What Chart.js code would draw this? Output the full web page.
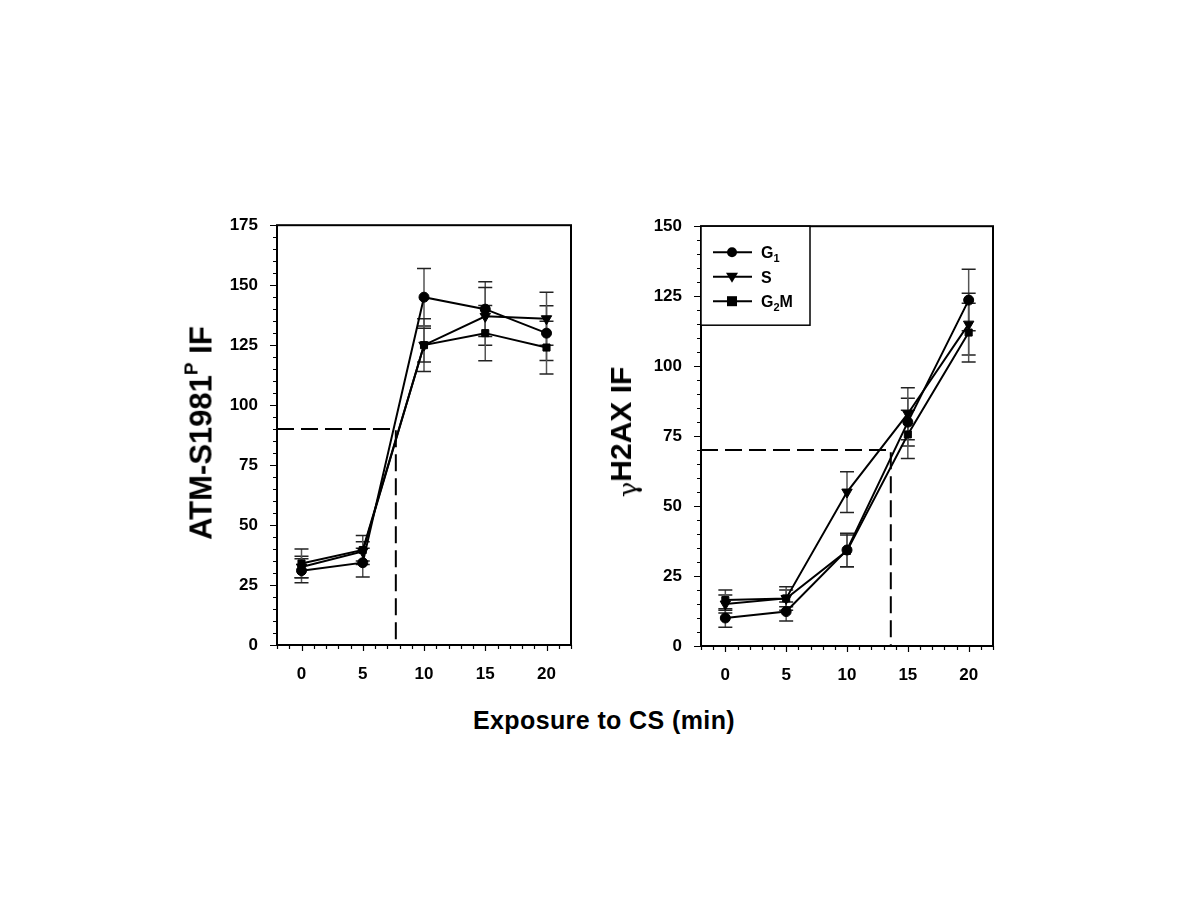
<!DOCTYPE html>
<html>
<head>
<meta charset="utf-8">
<script src="https://cdn.jsdelivr.net/npm/chart.js@4.4.1/dist/chart.umd.min.js"></script>
<style>
  body { margin: 0; background: #fff; width: 1200px; height: 900px; position: relative; overflow: hidden;
         font-family: "Liberation Sans", Arial, sans-serif; color: #000; }
  canvas { position: absolute; }
  .ttl { position: absolute; font-weight: bold; white-space: nowrap; line-height: 1; }
  .rot { transform: translate(-50%, -50%) rotate(-90deg); }
</style>
</head>
<body>
<canvas id="atm" width="440" height="500" style="left:150px; top:196px;"></canvas>
<canvas id="h2ax" width="430" height="500" style="left:590px; top:197px;"></canvas>

<div class="ttl rot" style="left:199px; top:433px; font-size:31px;">ATM-S1981<sup style="font-size:19px; vertical-align:14px;">P</sup> IF</div>
<div class="ttl rot" style="left:621px; top:432px; font-size:30px;"><span style="font-family:'DejaVu Serif', serif; font-weight:normal; font-size:26px; position:relative; top:6px;">γ</span>H2AX IF</div>
<div class="ttl" style="left:604px; top:720px; font-size:25px; letter-spacing:0.4px; transform:translate(-50%, -50%);">Exposure to CS (min)</div>

<script>
// x positions (minutes of CS exposure)
const timesMin = [0, 5, 10, 15, 20];
const xTicks = [0, 5, 10, 15, 20];

// left panel: ATM-S1981P IF
const atmTicks = [0, 25, 50, 75, 100, 125, 150, 175];
const atmG1 = [31, 34.3, 145, 140, 130];
const atmS = [32.5, 39, 125, 137, 136];
const atmG2M = [34, 39.6, 125, 130, 124];
const atmG1Err = [5, 6, 12, 11.4, 11.4];
const atmSErr = [4.5, 4, 11, 12, 11];
const atmG2MErr = [6, 6, 7, 11.5, 11];
const atmCutX = [-2, 7.7, 7.7];
const atmCutY = [90, 90, 0];

// right panel: gammaH2AX IF
const h2axTicks = [0, 25, 50, 75, 100, 125, 150];
const h2axG1 = [10, 12.3, 34.3, 80, 123.6];
const h2axS = [15, 17, 55, 83, 115];
const h2axG2M = [16.4, 17, 34, 75.6, 112];
const h2axG1Err = [3.3, 3.4, 6, 8.5, 11];
const h2axSErr = [3.2, 3, 7.3, 9.3, 11];
const h2axG2MErr = [3.6, 4.2, 5.7, 8.6, 10.5];
const h2axCutX = [-2, 13.6, 13.6];
const h2axCutY = [70, 70, 0];

const FONT = '"Liberation Sans", Arial, sans-serif';
const pts = (xs, ys) => xs.map((x, i) => ({ x, y: ys[i] }));

function series(label, ys, err, style) {
  return {
    label, data: pts(timesMin, ys), err,
    borderColor: '#000', borderWidth: 2, backgroundColor: '#000',
    pointStyle: style, pointRadius: style === 'triangle' ? 6 : 5,
    pointRotation: style === 'triangle' ? 180 : 0,
    pointBackgroundColor: '#000', pointBorderColor: '#000', pointBorderWidth: 1,
    tension: 0,
  };
}

function cutLine(xs, ys) {
  return { label: 'cut', data: pts(xs, ys), borderColor: '#000', borderWidth: 2,
           borderDash: [17, 7], pointRadius: 0, fill: false, tension: 0 };
}

// error bars under the markers
const errorBars = {
  id: 'errorBars',
  beforeDatasetsDraw(chart) {
    const { ctx } = chart, y = chart.scales.y;
    chart.data.datasets.forEach((ds, i) => {
      if (!ds.err) return;
      chart.getDatasetMeta(i).data.forEach((p, j) => {
        const v = ds.data[j].y, e = ds.err[j];
        const top = y.getPixelForValue(v + e), bot = y.getPixelForValue(v - e);
        ctx.save();
        ctx.strokeStyle = '#555';
        ctx.lineWidth = 1.5;
        ctx.beginPath();
        ctx.moveTo(p.x, top); ctx.lineTo(p.x, bot);
        ctx.stroke();
        ctx.strokeStyle = '#222';
        ctx.beginPath();
        ctx.moveTo(p.x - 7, top); ctx.lineTo(p.x + 7, top);
        ctx.moveTo(p.x - 7, bot); ctx.lineTo(p.x + 7, bot);
        ctx.stroke();
        ctx.restore();
      });
    });
  },
};

// frame + outward major/minor ticks
const frame = {
  id: 'frame',
  afterDraw(chart) {
    const { ctx, chartArea: a } = chart, xs = chart.scales.x, ys = chart.scales.y;
    ctx.save();
    ctx.strokeStyle = '#000';
    ctx.lineWidth = 2;
    ctx.strokeRect(a.left, a.top, a.right - a.left, a.bottom - a.top);
    ctx.lineWidth = 1.2;
    ctx.beginPath();
    for (let v = ys.min; v <= ys.max; v += 5) {
      const py = Math.round(ys.getPixelForValue(v)) + 0.5;
      const len = v % 25 === 0 ? 7 : 4;
      ctx.moveTo(a.left, py); ctx.lineTo(a.left - len, py);
    }
    for (let v = xs.min; v <= xs.max; v += 1) {
      const px = Math.round(xs.getPixelForValue(v)) + 0.5;
      const len = v % 5 === 0 ? 6 : 4;
      ctx.moveTo(px, a.bottom); ctx.lineTo(px, a.bottom + len);
    }
    ctx.stroke();
    ctx.restore();
  },
};

// legend with subscripts (right panel only)
const subLegend = {
  id: 'subLegend',
  afterDraw(chart, args, opts) {
    if (!opts.show) return;
    const { ctx, chartArea: a } = chart;
    const bx = a.left, by = a.top, bw = 109, bh = 99;
    ctx.save();
    ctx.fillStyle = '#fff';
    ctx.fillRect(bx, by, bw, bh);
    ctx.strokeStyle = '#000';
    ctx.lineWidth = 1.5;
    ctx.strokeRect(bx, by, bw, bh);
    const items = [['G', '1', '', 'circle'], ['S', '', '', 'triangle'], ['G', '2', 'M', 'rect']];
    items.forEach((it, k) => {
      const cy = by + 26 + k * 24.5;
      ctx.strokeStyle = '#000'; ctx.lineWidth = 2;
      ctx.beginPath(); ctx.moveTo(bx + 12, cy); ctx.lineTo(bx + 51, cy); ctx.stroke();
      ctx.fillStyle = '#000';
      ctx.beginPath();
      const mx = bx + 31;
      if (it[3] === 'circle') ctx.arc(mx, cy, 5, 0, Math.PI * 2);
      else if (it[3] === 'rect') ctx.rect(mx - 5, cy - 5, 10, 10);
      else { ctx.moveTo(mx - 6, cy - 4); ctx.lineTo(mx + 6, cy - 4); ctx.lineTo(mx, cy + 6); ctx.closePath(); }
      ctx.fill();
      let tx = bx + 60;
      ctx.textBaseline = 'alphabetic';
      ctx.font = 'bold 16px ' + FONT;
      ctx.fillText(it[0], tx, cy + 6);
      tx += ctx.measureText(it[0]).width;
      if (it[1]) {
        ctx.font = 'bold 11px ' + FONT;
        ctx.fillText(it[1], tx, cy + 10);
        tx += ctx.measureText(it[1]).width;
      }
      if (it[2]) {
        ctx.font = 'bold 16px ' + FONT;
        ctx.fillText(it[2], tx, cy + 6);
      }
    });
    ctx.restore();
  },
};

// chart area sits 29px below the canvas top (label overflow), 420px tall
function makeChart(id, yMax, yTickList, sets, yWidth, padRight, showLegend) {
  return new Chart(document.getElementById(id), {
    type: 'line',
    data: { datasets: sets },
    options: {
      responsive: false,
      animation: false,
      events: [],
      layout: { padding: { left: 0, right: padRight, top: 0, bottom: 0 } },
      plugins: { legend: { display: false }, tooltip: { enabled: false }, subLegend: { show: showLegend } },
      scales: {
        x: {
          type: 'linear', min: -2, max: 22,
          afterBuildTicks: (s) => { s.ticks = xTicks.map((v) => ({ value: v })); },
          afterFit: (s) => { s.height = 500 - 420 - 29; },
          grid: { display: false, drawTicks: false },
          border: { display: false },
          ticks: { autoSkip: false, maxRotation: 0, padding: 19, color: '#000',
                   font: { family: FONT, size: 17, weight: 'bold' } },
        },
        y: {
          min: 0, max: yMax,
          afterBuildTicks: (s) => { s.ticks = yTickList.map((v) => ({ value: v })); },
          afterFit: (s) => { s.width = yWidth; },
          grid: { display: false, drawTicks: false },
          border: { display: false },
          ticks: { autoSkip: false, padding: 19, color: '#000',
                   font: { family: FONT, size: 17, weight: 'bold' } },
        },
      },
    },
    plugins: [errorBars, frame, subLegend],
  });
}

makeChart('atm', 175, atmTicks, [
  series('G1', atmG1, atmG1Err, 'circle'),
  series('S', atmS, atmSErr, 'triangle'),
  series('G2M', atmG2M, atmG2MErr, 'rect'),
  cutLine(atmCutX, atmCutY),
], 127, 19, false);

makeChart('h2ax', 150, h2axTicks, [
  series('G1', h2axG1, h2axG1Err, 'circle'),
  series('S', h2axS, h2axSErr, 'triangle'),
  series('G2M', h2axG2M, h2axG2MErr, 'rect'),
  cutLine(h2axCutX, h2axCutY),
], 111, 27, true);
</script>
</body>
</html>
